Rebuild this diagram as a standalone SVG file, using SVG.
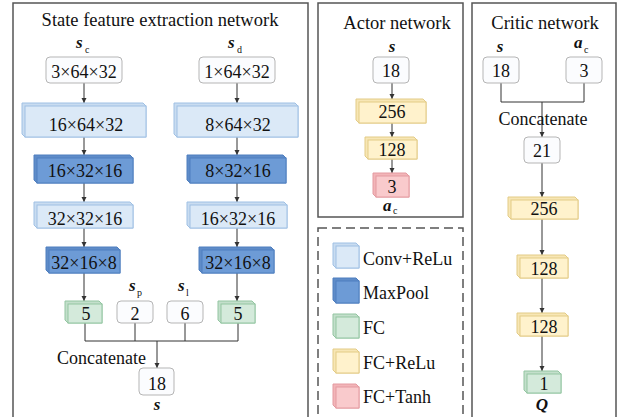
<svg xmlns="http://www.w3.org/2000/svg" width="621" height="417" viewBox="0 0 621 417">
<defs>
<marker id="ah" markerUnits="userSpaceOnUse" markerWidth="6" markerHeight="6" refX="5" refY="2.5" orient="auto">
<path d="M0,0 L5,2.5 L0,5 z" fill="#333"/>
</marker>
<style>
text{font-family:"Liberation Serif","Times New Roman",serif;fill:#111;}
.t{font-family:"Liberation Serif","Times New Roman",serif;font-size:18.5px;text-anchor:middle;}
.b{font-family:"Liberation Serif","Times New Roman",serif;font-size:18px;text-anchor:middle;}
.l{font-family:"Liberation Serif","Times New Roman",serif;font-size:18px;}
.bi{font-family:"Liberation Serif","Times New Roman",serif;font-size:17px;font-weight:bold;font-style:italic;}
.sub{font-family:"Liberation Serif","Times New Roman",serif;font-size:10px;}
.frame{fill:none;stroke:#555;stroke-width:1.5;}
.dash{fill:none;stroke:#555;stroke-width:1.5;stroke-dasharray:9,5;}
.w{fill:#fbfcfe;stroke:#b5b5b5;stroke-width:1;}
.ln{fill:none;stroke:#333;stroke-width:1;}
.ar{fill:none;stroke:#333;stroke-width:1;marker-end:url(#ah);}
.conv .s{fill:#c9dcf0;stroke:#9fc0e4;}
.conv .f{fill:#dbe9f7;stroke:#9fc0e4;}
.mp .s{fill:#5f8cc8;stroke:#4f7fbf;}
.mp .f{fill:#6d9bd6;stroke:#4f7fbf;}
.fc .s{fill:#c3dfcb;stroke:#93c5a1;}
.fc .f{fill:#d4eadb;stroke:#93c5a1;}
.fcr .s{fill:#f7e6b5;stroke:#e3cb86;}
.fcr .f{fill:#fff2cc;stroke:#e3cb86;}
.fct .s{fill:#f2b5b8;stroke:#e49aa0;}
.fct .f{fill:#f9cacc;stroke:#e49aa0;}
</style>
</defs>

<!-- frames -->
<g id="frames">
<rect class="frame" x="13" y="3" width="295" height="425"/>
<rect class="frame" x="318" y="3" width="145" height="214"/>
<rect class="frame" x="472" y="3" width="144" height="425"/>
<rect class="dash" x="318" y="228" width="145" height="200"/>
<text class="t" x="160" y="26">State feature extraction network</text>
<text class="t" x="397" y="29">Actor network</text>
<text class="t" x="545" y="29">Critic network</text>
</g>

<!-- connectors -->
<g id="connectors">
<line class="ar" x1="84" y1="83" x2="84" y2="103"/>
<line class="ar" x1="237" y1="83" x2="237" y2="103"/>
<line class="ar" x1="84" y1="137" x2="84" y2="155"/>
<line class="ar" x1="237" y1="137" x2="237" y2="155"/>
<line class="ar" x1="84" y1="183" x2="84" y2="202"/>
<line class="ar" x1="237" y1="183" x2="237" y2="202"/>
<line class="ar" x1="84" y1="228" x2="84" y2="247"/>
<line class="ar" x1="237" y1="228" x2="237" y2="247"/>
<line class="ar" x1="84" y1="273" x2="84" y2="301"/>
<line class="ar" x1="237" y1="273" x2="237" y2="301"/>
<path class="ln" d="M85,323 V341 M135,323 V341 M185,323 V341 M238,323 V341 M85,341 H238"/>
<line class="ar" x1="157" y1="341" x2="157" y2="368"/>
<line class="ar" x1="392" y1="83" x2="392" y2="99"/>
<line class="ar" x1="392" y1="123" x2="392" y2="137"/>
<line class="ar" x1="392" y1="159" x2="392" y2="173"/>
<path class="ln" d="M501,83 V102 H584 V83"/>
<line class="ar" x1="542" y1="102" x2="542" y2="137"/>
<line class="ar" x1="542" y1="163" x2="542" y2="197"/>
<line class="ar" x1="542" y1="219" x2="542" y2="255"/>
<line class="ar" x1="542" y1="278" x2="542" y2="313"/>
<line class="ar" x1="542" y1="336" x2="542" y2="371"/>
</g>

<!-- state network -->
<g id="sc-in">
<text class="bi" x="76" y="48">s</text><text class="sub" x="85" y="53">c</text>
<rect class="w" x="46" y="57" width="76" height="26" rx="4"/>
<text class="b" x="84" y="78">3×64×32</text>
</g>
<g id="sd-in">
<text class="bi" x="228" y="48">s</text><text class="sub" x="237" y="53">d</text>
<rect class="w" x="199" y="57" width="76" height="26" rx="4"/>
<text class="b" x="237" y="78">1×64×32</text>
</g>
<g id="conv1L" class="conv">
<polygon class="s" points="22,103 143,103 146,106 146,137 25,137 22,134"/>
<rect class="f" x="25" y="106" width="121" height="31"/>
<text class="b" x="86" y="131">16×64×32</text>
</g>
<g id="conv1R" class="conv">
<polygon class="s" points="174,103 295,103 298,106 298,137 177,137 174,134"/>
<rect class="f" x="177" y="106" width="121" height="31"/>
<text class="b" x="238" y="131">8×64×32</text>
</g>
<g id="mp1L" class="mp">
<polygon class="s" points="34,155 130,155 133,158 133,183 37,183 34,180"/>
<rect class="f" x="37" y="158" width="96" height="25"/>
<text class="b" x="85" y="177">16×32×16</text>
</g>
<g id="mp1R" class="mp">
<polygon class="s" points="187,155 283,155 286,158 286,183 190,183 187,180"/>
<rect class="f" x="190" y="158" width="96" height="25"/>
<text class="b" x="238" y="177">8×32×16</text>
</g>
<g id="conv2L" class="conv">
<polygon class="s" points="34,202 130,202 133,205 133,228 37,228 34,225"/>
<rect class="f" x="37" y="205" width="96" height="23"/>
<text class="b" x="85" y="225">32×32×16</text>
</g>
<g id="conv2R" class="conv">
<polygon class="s" points="187,202 284,202 287,205 287,228 190,228 187,225"/>
<rect class="f" x="190" y="205" width="97" height="23"/>
<text class="b" x="238" y="225">16×32×16</text>
</g>
<g id="mp2L" class="mp">
<polygon class="s" points="46,247 117,247 120,250 120,273 49,273 46,270"/>
<rect class="f" x="49" y="250" width="71" height="23"/>
<text class="b" x="84" y="269">32×16×8</text>
</g>
<g id="mp2R" class="mp">
<polygon class="s" points="199,247 271,247 274,250 274,273 202,273 199,270"/>
<rect class="f" x="202" y="250" width="72" height="23"/>
<text class="b" x="238" y="269">32×16×8</text>
</g>
<g id="fcL" class="fc">
<polygon class="s" points="65,301 99,301 102,304 102,323 68,323 65,320"/>
<rect class="f" x="68" y="304" width="34" height="19"/>
<text class="b" x="86" y="320">5</text>
</g>
<g id="sp" >
<text class="bi" x="129" y="291">s</text><text class="sub" x="137" y="296">p</text>
<rect class="w" x="117" y="301" width="36" height="22" rx="4"/>
<text class="b" x="135" y="320">2</text>
</g>
<g id="sl">
<text class="bi" x="178" y="291">s</text><text class="sub" x="186" y="296">l</text>
<rect class="w" x="167" y="301" width="36" height="22" rx="4"/>
<text class="b" x="185" y="320">6</text>
</g>
<g id="fcR" class="fc">
<polygon class="s" points="218,301 252,301 255,304 255,323 221,323 218,320"/>
<rect class="f" x="221" y="304" width="34" height="19"/>
<text class="b" x="238" y="320">5</text>
</g>
<g id="concat1">
<text class="l" x="57" y="364">Concatenate</text>
</g>
<g id="s-out">
<rect class="w" x="139" y="368" width="35" height="27" rx="4"/>
<text class="b" x="157" y="390">18</text>
<text class="bi" x="157" y="410" text-anchor="middle">s</text>
</g>

<!-- actor -->
<g id="a-in">
<text class="bi" x="392" y="52" text-anchor="middle">s</text>
<rect class="w" x="373" y="57" width="36" height="26" rx="4"/>
<text class="b" x="391" y="77">18</text>
</g>
<g id="a256" class="fcr">
<polygon class="s" points="356,99 423,99 426,102 426,123 359,123 356,120"/>
<rect class="f" x="359" y="102" width="67" height="21"/>
<text class="b" x="392" y="118">256</text>
</g>
<g id="a128" class="fcr">
<polygon class="s" points="365,137 414,137 417,140 417,159 368,159 365,156"/>
<rect class="f" x="368" y="140" width="49" height="19"/>
<text class="b" x="392" y="156">128</text>
</g>
<g id="a3" class="fct">
<polygon class="s" points="373,173 406,173 409,176 409,197 376,197 373,194"/>
<rect class="f" x="376" y="176" width="33" height="21"/>
<text class="b" x="392" y="193">3</text>
<text class="bi" x="383" y="211">a</text><text class="sub" x="393" y="214">c</text>
</g>

<!-- critic -->
<g id="c-s">
<text class="bi" x="500" y="52" text-anchor="middle">s</text>
<rect class="w" x="483" y="57" width="36" height="26" rx="4"/>
<text class="b" x="501" y="77">18</text>
</g>
<g id="c-a">
<text class="bi" x="574" y="48">a</text><text class="sub" x="584" y="53">c</text>
<rect class="w" x="566" y="57" width="36" height="26" rx="4"/>
<text class="b" x="584" y="77">3</text>
</g>
<g id="concat2">
<text class="b" x="543" y="125">Concatenate</text>
</g>
<g id="c21">
<rect class="w" x="524" y="137" width="36" height="26" rx="4"/>
<text class="b" x="542" y="157">21</text>
</g>
<g id="c256" class="fcr">
<polygon class="s" points="508,197 575,197 578,200 578,219 511,219 508,216"/>
<rect class="f" x="511" y="200" width="67" height="19"/>
<text class="b" x="544" y="215">256</text>
</g>
<g id="c128a" class="fcr">
<polygon class="s" points="517,255 565,255 568,258 568,278 520,278 517,275"/>
<rect class="f" x="520" y="258" width="48" height="20"/>
<text class="b" x="544" y="275">128</text>
</g>
<g id="c128b" class="fcr">
<polygon class="s" points="517,313 565,313 568,316 568,336 520,336 517,333"/>
<rect class="f" x="520" y="316" width="48" height="20"/>
<text class="b" x="544" y="333">128</text>
</g>
<g id="c1" class="fc">
<polygon class="s" points="524,371 558,371 561,374 561,393 527,393 524,390"/>
<rect class="f" x="527" y="374" width="34" height="19"/>
<text class="b" x="544" y="390">1</text>
<text class="bi" x="542" y="410" text-anchor="middle">Q</text>
</g>

<!-- legend -->
<g id="leg-conv" class="conv">
<polygon class="s" points="333,243 356,243 359,246 359,268 336,268 333,265"/>
<rect class="f" x="336" y="246" width="23" height="22"/>
<text class="l" x="363" y="265">Conv+ReLu</text>
</g>
<g id="leg-mp" class="mp">
<polygon class="s" points="333,278 356,278 359,281 359,303 336,303 333,300"/>
<rect class="f" x="336" y="281" width="23" height="22"/>
<text class="l" x="363" y="299">MaxPool</text>
</g>
<g id="leg-fc" class="fc">
<polygon class="s" points="333,314 356,314 359,317 359,338 336,338 333,335"/>
<rect class="f" x="336" y="317" width="23" height="21"/>
<text class="l" x="363" y="334">FC</text>
</g>
<g id="leg-fcr" class="fcr">
<polygon class="s" points="333,349 356,349 359,352 359,373 336,373 333,370"/>
<rect class="f" x="336" y="352" width="23" height="21"/>
<text class="l" x="363" y="369">FC+ReLu</text>
</g>
<g id="leg-fct" class="fct">
<polygon class="s" points="333,384 356,384 359,387 359,408 336,408 333,405"/>
<rect class="f" x="336" y="387" width="23" height="21"/>
<text class="l" x="363" y="403">FC+Tanh</text>
</g>
</svg>
